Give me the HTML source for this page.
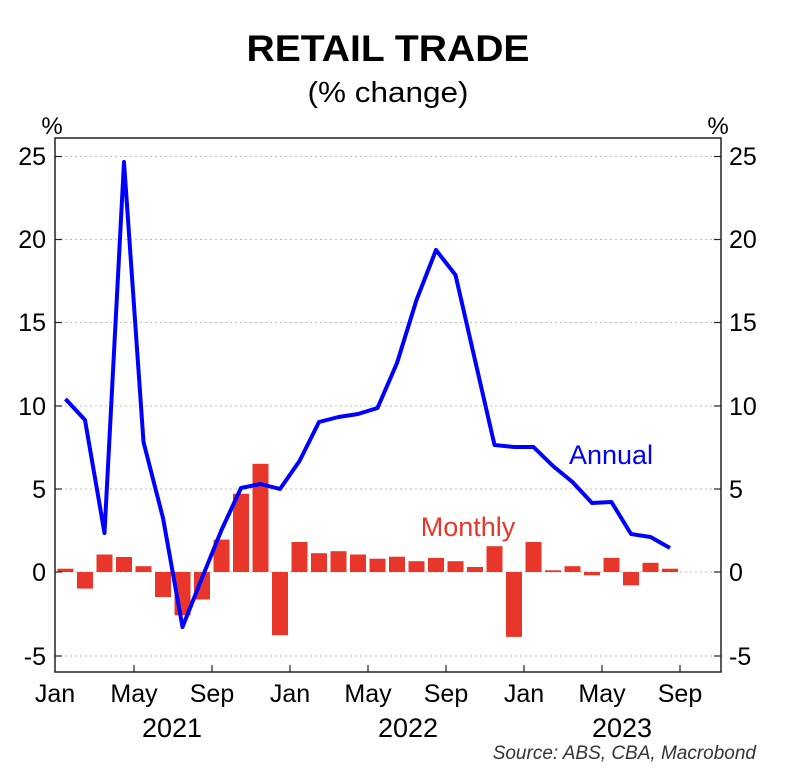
<!DOCTYPE html>
<html><head><meta charset="utf-8"><style>
html,body{margin:0;padding:0;background:#fff;}
svg{display:block;font-family:"Liberation Sans",Arial,sans-serif;}
</style></head><body>
<svg width="802" height="782" viewBox="0 0 802 782" xmlns="http://www.w3.org/2000/svg">
<rect width="802" height="782" fill="#fff"/>
<text x="388" y="61" font-size="37" font-weight="bold" text-anchor="middle" textLength="283" lengthAdjust="spacingAndGlyphs">RETAIL TRADE</text>
<text x="388" y="102" font-size="29" text-anchor="middle" textLength="161" lengthAdjust="spacingAndGlyphs">(% change)</text>
<text x="52" y="134" font-size="24" text-anchor="middle">%</text>
<text x="718" y="134" font-size="24" text-anchor="middle">%</text>
<g stroke="#bbb" stroke-width="1" stroke-dasharray="2,3">
<line x1="55" x2="721" y1="156.5" y2="156.5"/>
<line x1="55" x2="721" y1="239.5" y2="239.5"/>
<line x1="55" x2="721" y1="322.5" y2="322.5"/>
<line x1="55" x2="721" y1="406" y2="406"/>
<line x1="55" x2="721" y1="489" y2="489"/>
<line x1="55" x2="721" y1="572" y2="572"/>
<line x1="55" x2="721" y1="656" y2="656"/>
</g>
<g fill="#e8372a">
<rect x="57.5" y="568.7" width="16" height="3.3"/>
<rect x="77" y="572" width="16" height="16.6"/>
<rect x="96.5" y="554.5" width="16" height="17.5"/>
<rect x="116" y="557" width="16" height="15"/>
<rect x="135.5" y="566.2" width="16" height="5.8"/>
<rect x="155" y="572" width="16" height="25"/>
<rect x="174.5" y="572" width="16" height="43.3"/>
<rect x="194" y="572" width="16" height="27.5"/>
<rect x="213.5" y="539.6" width="16" height="32.4"/>
<rect x="233" y="493.8" width="16" height="78.2"/>
<rect x="252.5" y="463.8" width="16" height="108.2"/>
<rect x="272" y="572" width="16" height="63.2"/>
<rect x="291.5" y="542" width="16" height="30"/>
<rect x="311" y="553.2" width="16" height="18.8"/>
<rect x="330.5" y="551.2" width="16" height="20.8"/>
<rect x="350" y="554.5" width="16" height="17.5"/>
<rect x="369.5" y="558.7" width="16" height="13.3"/>
<rect x="389" y="556.7" width="16" height="15.3"/>
<rect x="408.5" y="561.2" width="16" height="10.8"/>
<rect x="428" y="557.9" width="16" height="14.1"/>
<rect x="447.5" y="561.2" width="16" height="10.8"/>
<rect x="467" y="567" width="16" height="5"/>
<rect x="486.5" y="546.2" width="16" height="25.8"/>
<rect x="506" y="572" width="16" height="64.9"/>
<rect x="525.5" y="542" width="16" height="30"/>
<rect x="545" y="570.3" width="16" height="1.7"/>
<rect x="564.5" y="566.2" width="16" height="5.8"/>
<rect x="584" y="572" width="16" height="3.3"/>
<rect x="603.5" y="557.9" width="16" height="14.1"/>
<rect x="623" y="572" width="16" height="13.3"/>
<rect x="642.5" y="562.8" width="16" height="9.2"/>
<rect x="662" y="568.7" width="16" height="3.3"/>
</g>
<polyline fill="none" stroke="#0000ff" stroke-width="4" stroke-linejoin="round" points="65.5,399 85,420 104.5,533 124,162 143.5,442 163,518 182.5,627 202,578 221.5,530 241,488 260.5,484 280,489 299.5,461 319,422 338.5,417 358,414 377.5,408 397,363 416.5,300 436,250 455.5,275 475,360 494.5,445 514,447 533.5,447 553,466 572.5,482 592,503 611.5,502 631,534 650.5,537 670,548"/>
<rect x="55" y="138" width="666" height="534" fill="none" stroke="#222" stroke-width="1.5"/>
<g stroke="#222" stroke-width="1.2">
<line x1="55" x2="62" y1="156.5" y2="156.5"/><line x1="55" x2="62" y1="239.5" y2="239.5"/><line x1="55" x2="62" y1="322.5" y2="322.5"/><line x1="55" x2="62" y1="406" y2="406"/><line x1="55" x2="62" y1="489" y2="489"/><line x1="55" x2="62" y1="572" y2="572"/><line x1="55" x2="62" y1="656" y2="656"/>
<line x1="714" x2="721" y1="156.5" y2="156.5"/><line x1="714" x2="721" y1="239.5" y2="239.5"/><line x1="714" x2="721" y1="322.5" y2="322.5"/><line x1="714" x2="721" y1="406" y2="406"/><line x1="714" x2="721" y1="489" y2="489"/><line x1="714" x2="721" y1="572" y2="572"/><line x1="714" x2="721" y1="656" y2="656"/>
<line x1="134" x2="134" y1="665" y2="672"/><line x1="212" x2="212" y1="665" y2="672"/><line x1="290" x2="290" y1="665" y2="672"/><line x1="368" x2="368" y1="665" y2="672"/><line x1="446" x2="446" y1="665" y2="672"/><line x1="524" x2="524" y1="665" y2="672"/><line x1="602" x2="602" y1="665" y2="672"/><line x1="680" x2="680" y1="665" y2="672"/>
</g>
<g font-size="25" text-anchor="end">
<text x="46" y="165">25</text><text x="46" y="248">20</text><text x="46" y="331">15</text><text x="46" y="415">10</text><text x="46" y="498">5</text><text x="46" y="581">0</text><text x="46" y="665">-5</text>
</g>
<g font-size="25" text-anchor="start">
<text x="729" y="165">25</text><text x="729" y="248">20</text><text x="729" y="331">15</text><text x="729" y="415">10</text><text x="729" y="498">5</text><text x="729" y="581">0</text><text x="729" y="665">-5</text>
</g>
<g font-size="25" text-anchor="middle">
<text x="55" y="702">Jan</text><text x="134" y="702">May</text><text x="212" y="702">Sep</text><text x="290" y="702">Jan</text><text x="368" y="702">May</text><text x="446" y="702">Sep</text><text x="524" y="702">Jan</text><text x="602" y="702">May</text><text x="680" y="702">Sep</text>
</g>
<g font-size="27" text-anchor="middle">
<text x="172" y="737">2021</text><text x="408" y="737">2022</text><text x="622" y="737">2023</text>
</g>
<text x="611" y="464" font-size="27" fill="#0000ff" text-anchor="middle">Annual</text>
<text x="468" y="536" font-size="27" fill="#e8372a" text-anchor="middle">Monthly</text>
<text x="756" y="759" font-size="19" font-style="italic" fill="#333" text-anchor="end">Source: ABS, CBA, Macrobond</text>
</svg>
</body></html>
